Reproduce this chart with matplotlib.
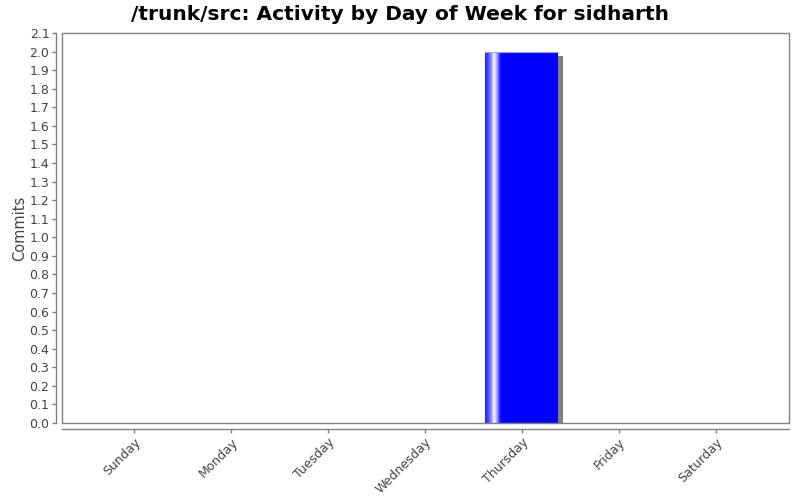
import numpy as np
import matplotlib
matplotlib.use('Agg')
import matplotlib.pyplot as plt
from matplotlib.patches import Rectangle
from matplotlib.colors import LinearSegmentedColormap

# --- DATA ---
days = ['Sunday', 'Monday', 'Tuesday', 'Wednesday', 'Thursday', 'Friday', 'Saturday']
commits = [0, 0, 0, 0, 2, 0, 0]
y_ticks = [round(0.1 * i, 1) for i in range(22)]

TITLE = '/trunk/src: Activity by Day of Week for sidharth'
GREY = '#808080'
TEXT = '#444444'

fig = plt.figure(figsize=(8, 5), dpi=100)
ax = fig.add_axes([0.0775, 0.154, 0.909, 0.78])

x = np.arange(len(days))
bar_w = 0.75
px_x = 1 / 96.8   # one pixel in data units along x
px_y = 1 / 185.7  # one pixel in data units along y

# shadow first, then bars on top
for xi, v in zip(x, commits):
    if v > 0:
        ax.bar(xi + 5 * px_x, v - 4 * px_y, width=bar_w, bottom=0,
               color=GREY, linewidth=0, zorder=2)
bars = ax.bar(x, commits, width=bar_w, color='#0000ff', linewidth=0, zorder=3)

# gradient stripe on the left part of each bar
cmap = LinearSegmentedColormap.from_list('shine', [
    (0.0, '#2020ff'), (0.05, '#5050ff'), (0.10, '#b0b0ff'), (0.12, '#ffffff'),
    (0.16, '#b0b0ff'), (0.21, '#1010ff'), (0.24, '#0000ff'), (1.0, '#0000ff')])
grad = np.linspace(0, 1, 256).reshape(1, -1)
for b in bars:
    if b.get_height() > 0:
        x0, w, h = b.get_x(), b.get_width(), b.get_height()
        im = ax.imshow(grad, cmap=cmap, aspect='auto', extent=[x0, x0 + w, 0, h],
                       zorder=4, interpolation='bilinear')
        im.set_clip_path(b)
        # thin light edge on top of the bar
        ax.plot([x0, x0 + w], [h, h], color='#a0a0ff', linewidth=0.8, zorder=5)

ax.set_xlim(-0.744, 6.76)
ax.set_ylim(0, 2.1)

# plot area border
ax.add_patch(Rectangle((0, 0), 1, 1, transform=ax.transAxes, fill=False,
                       edgecolor=GREY, linewidth=1, zorder=6, clip_on=False))

for s in ['top', 'right']:
    ax.spines[s].set_visible(False)
for s in ['left', 'bottom']:
    ax.spines[s].set_position(('outward', 4))
    ax.spines[s].set_color(GREY)
    ax.spines[s].set_linewidth(1)

ax.set_yticks(y_ticks)
ax.set_yticklabels([f'{t:.1f}' for t in y_ticks])
ax.set_xticks(x)
ax.set_xticklabels(days, rotation=45, ha='right', va='top', rotation_mode='anchor')
ax.tick_params(axis='both', colors=GREY, labelcolor=TEXT, labelsize=9, length=3, width=1)
ax.tick_params(axis='x', pad=2)
ax.tick_params(axis='y', pad=2)

ax.set_ylabel('Commits', fontsize=10.5, color=TEXT, labelpad=2)
fig.suptitle(TITLE, fontsize=14.5, fontweight='bold', y=0.99)

fig.savefig('out.png', dpi=100)
